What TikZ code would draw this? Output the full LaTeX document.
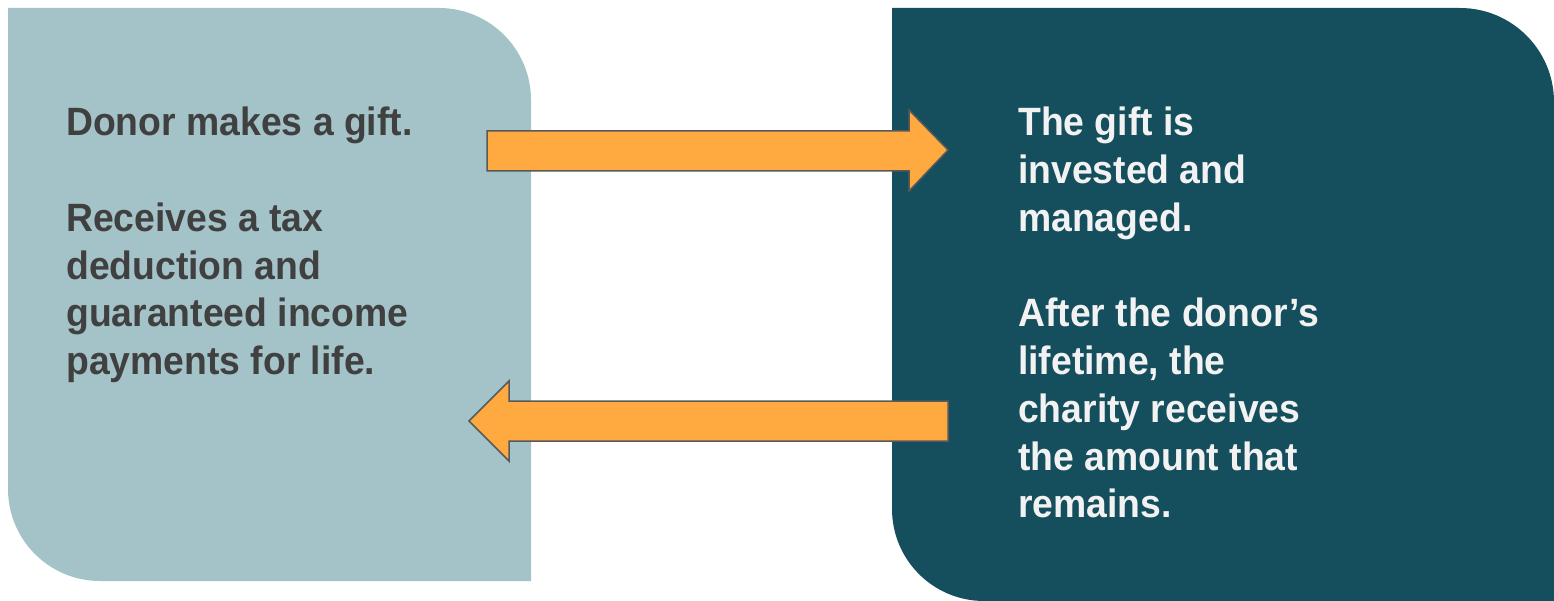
\documentclass[tikz,border=0pt]{standalone}
\usepackage{fontspec}
\setmainfont[FakeStretch=0.945]{Liberation Sans}
\definecolor{leftbox}{HTML}{A3C3C8}
\definecolor{rightbox}{HTML}{154F5E}
\definecolor{arrowfill}{HTML}{FFAA40}
\definecolor{arrowline}{HTML}{595959}
\definecolor{lefttext}{HTML}{404040}
\definecolor{righttext}{HTML}{F2F2F2}
\tikzset{
  bigtext/.style={anchor=north west, inner sep=0pt, align=left,
    font=\bfseries\fontsize{39.5}{47.75}\selectfont},
  blockarrow/.style={fill=arrowfill, draw=arrowline, line width=1.5pt, line join=miter}
}
\begin{document}
\begin{tikzpicture}[x=1pt,y=-1pt]
\useasboundingbox (0,0) rectangle (1554,601);
% left panel
\fill[leftbox] (8,8) -- (439,8) arc[start angle=-90,end angle=0,radius=92]
  -- (531,581) -- (100,581) arc[start angle=90,end angle=180,radius=92] -- cycle;
% right panel
\fill[rightbox] (892,8) -- (1460,8) arc[start angle=-90,end angle=0,radius=94]
  -- (1554,601) -- (984,601) arc[start angle=90,end angle=180,radius=92] -- cycle;
% arrows
\draw[blockarrow] (487,131) -- (909,131) -- (909,110) -- (948,150) -- (909,191)
  -- (909,171) -- (487,171) -- cycle;
\draw[blockarrow] (948,401) -- (509,401) -- (509,381) -- (469,421) -- (509,461)
  -- (509,441) -- (948,441) -- cycle;
% texts
\node[bigtext, text=lefttext] (ltext) at (66,107)
  {Donor makes a gift.\\[47.75pt]Receives a tax\\deduction and\\guaranteed income\\payments for life.};
\node[bigtext, text=righttext] (rtext) at (1018,107)
  {The gift is\\invested and\\managed.\\[47.75pt]After the donor’s\\lifetime, the\\charity receives\\the amount that\\remains.};
\end{tikzpicture}
\end{document}
